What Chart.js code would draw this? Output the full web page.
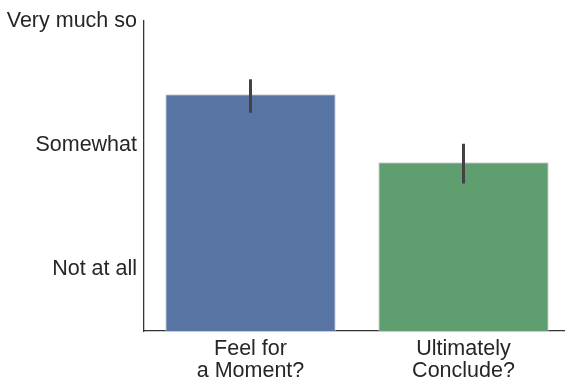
<!DOCTYPE html>
<html>
<head>
<meta charset="utf-8">
<script src="https://cdn.jsdelivr.net/npm/chart.js@4"></script>
<style>
  html, body { margin: 0; padding: 0; background: #ffffff; overflow: hidden; }
  #wrap { width: 565px; height: 381px; overflow: hidden; }
</style>
</head>
<body>
<div id="wrap"><canvas id="c" width="570" height="381"></canvas></div>
<script>
const categories = [["Feel for", "a Moment?"], ["Ultimately", "Conclude?"]];
const means = [2.41, 1.86];
const errLow = [2.26, 1.69];
const errHigh = [2.53, 2.01];
const barColors = ["#5975a4", "#5f9e6e"];
const tickValues = [1, 2, 3];
const tickLabels = ["Not at all", "Somewhat", "Very much so"];

const errorBars = {
  id: 'errorBars',
  afterDatasetsDraw(chart) {
    const ctx = chart.ctx;
    const meta = chart.getDatasetMeta(0);
    const ys = chart.scales.y;
    ctx.save();
    ctx.strokeStyle = '#424242';
    ctx.lineWidth = 3;
    ctx.lineCap = 'butt';
    meta.data.forEach((bar, i) => {
      ctx.beginPath();
      ctx.moveTo(bar.x, ys.getPixelForValue(errLow[i]));
      ctx.lineTo(bar.x, ys.getPixelForValue(errHigh[i]));
      ctx.stroke();
    });
    ctx.restore();
  }
};

new Chart(document.getElementById('c'), {
  type: 'bar',
  data: {
    labels: categories,
    datasets: [{
      data: means,
      backgroundColor: barColors,
      borderColor: '#d0d0d0',
      borderWidth: 1,
      barPercentage: 0.8,
      categoryPercentage: 1.0
    }]
  },
  options: {
    responsive: false,
    animation: false,
    devicePixelRatio: 1,
    layout: { padding: { top: 21, right: 0, left: 0, bottom: 0 } },
    plugins: { legend: { display: false }, tooltip: { enabled: false } },
    scales: {
      x: {
        type: 'category',
        offset: true,
        grid: { display: false, drawTicks: false },
        border: { display: true, color: '#333333', width: 1.3 },
        ticks: {
          color: '#262626',
          font: { family: 'Liberation Sans', size: 21.5, lineHeight: 1.03 },
          padding: 7,
          maxRotation: 0,
          autoSkip: false
        },
        afterFit(scale) { scale.height = 50; }
      },
      y: {
        min: 0.5,
        max: 3,
        grid: { display: false, drawTicks: false },
        border: { display: true, color: '#333333', width: 1.3 },
        afterBuildTicks(scale) { scale.ticks = tickValues.map(v => ({ value: v })); },
        ticks: {
          color: '#262626',
          font: { family: 'Liberation Sans', size: 21.5 },
          padding: 7,
          callback(value) {
            const idx = tickValues.indexOf(value);
            return idx >= 0 ? tickLabels[idx] : '';
          }
        },
        afterFit(scale) { scale.width = 144; }
      }
    }
  },
  plugins: [errorBars]
});
</script>
</body>
</html>
